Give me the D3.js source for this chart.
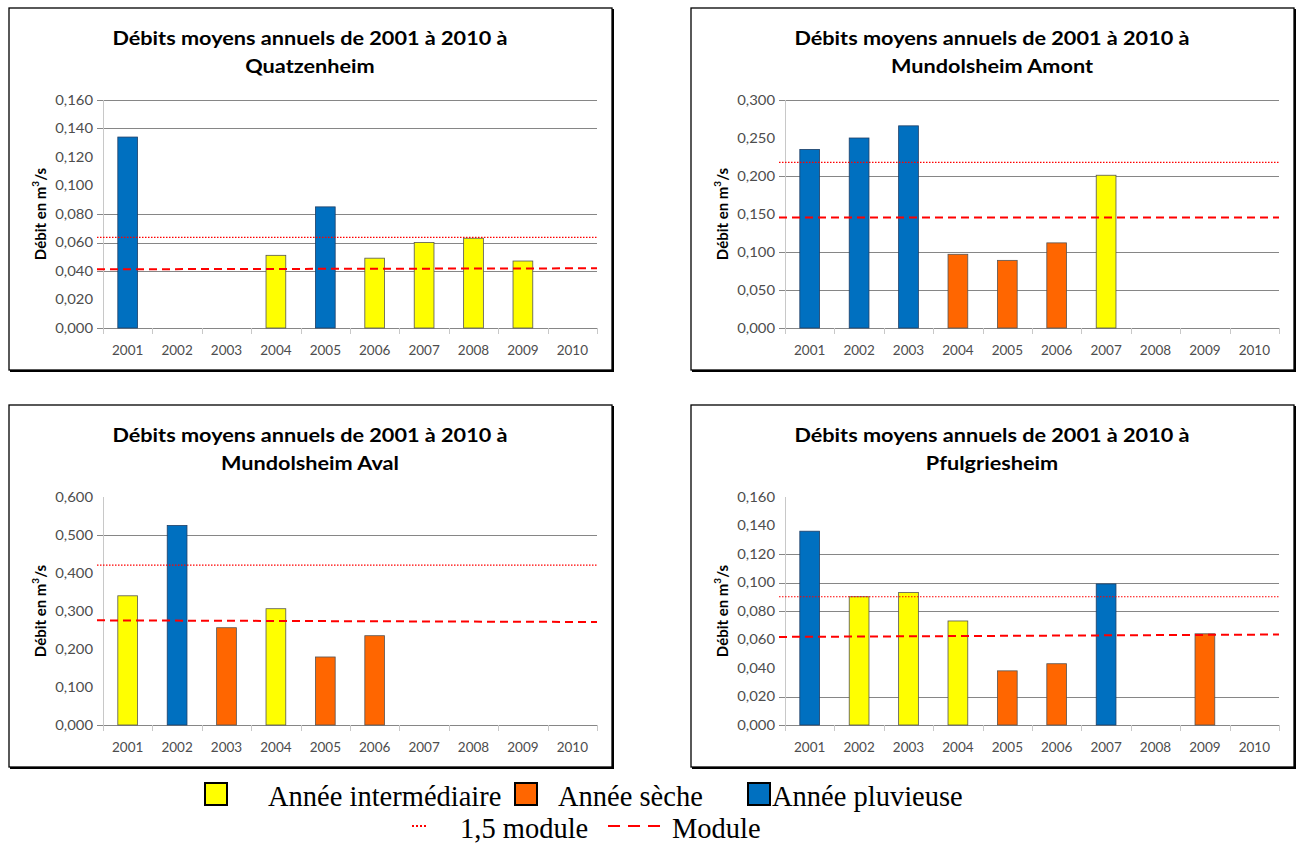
<!DOCTYPE html>
<html>
<head>
<meta charset="utf-8">
<script src="https://cdn.jsdelivr.net/npm/d3@7/dist/d3.min.js"></script>
<style>
  html, body { margin: 0; padding: 0; background: #fff; }
  svg { display: block; }
</style>
</head>
<body>
<svg id="chart" width="1297" height="843"></svg>
<script>
// Years on the category axis
const years = ["2001", "2002", "2003", "2004", "2005", "2006", "2007", "2008", "2009", "2010"];

// Station names (chart titles)
const stations = ["Quatzenheim", "Mundolsheim Amont", "Mundolsheim Aval", "Pfulgriesheim"];

// Annual mean flow (m3/s) per station, null = no measurement
const debitQuatzenheim      = [0.134, null, null, 0.051, 0.085, 0.049, 0.060, 0.063, 0.047, null];
const debitMundolsheimAmont = [0.235, 0.250, 0.266, 0.097, 0.089, 0.112, 0.201, null, null, null];
const debitMundolsheimAval  = [0.340, 0.525, 0.256, 0.306, 0.179, 0.235, null, null, null, null];
const debitPfulgriesheim    = [0.136, 0.090, 0.093, 0.073, 0.038, 0.043, 0.099, null, 0.064, null];

// Year type: I = intermédiaire, S = sèche, P = pluvieuse
const typeQuatzenheim      = ["P", null, null, "I", "P", "I", "I", "I", "I", null];
const typeMundolsheimAmont = ["P", "P", "P", "S", "S", "S", "I", null, null, null];
const typeMundolsheimAval  = ["I", "P", "S", "I", "S", "S", null, null, null, null];
const typePfulgriesheim    = ["P", "I", "I", "I", "S", "S", "P", null, "S", null];

// Module (drawn line, value at the 2001 end and at the 2010 end) and 1,5 module
const moduleStart = [0.0412, 0.1454, 0.2754, 0.0618];
const moduleEnd   = [0.0419, 0.1454, 0.2710, 0.0635];
const module15    = [0.0636, 0.2180, 0.4205, 0.0900];

// Value axis: maximum, step, and the gridlines shown
const yMax  = [0.16, 0.30, 0.60, 0.16];
const yStep = [0.02, 0.05, 0.10, 0.02];
const gridShown = [
  [0.16, 0.14, 0.08, 0.06, 0.04],
  [0.30, 0.20, 0.10, 0.05],
  [0.50],
  [0.12, 0.10, 0.08, 0.02]
];

// Legend entries
const legendTypes = [
  { key: "I", label: "Année intermédiaire" },
  { key: "S", label: "Année sèche" },
  { key: "P", label: "Année pluvieuse" }
];
const legendLines = [
  { key: "m15", label: "1,5 module" },
  { key: "m", label: "Module" }
];

const debits = [debitQuatzenheim, debitMundolsheimAmont, debitMundolsheimAval, debitPfulgriesheim];
const types  = [typeQuatzenheim, typeMundolsheimAmont, typeMundolsheimAval, typePfulgriesheim];

const colors = { I: "#FFFF00", S: "#FF6600", P: "#0070C0" };
const RED = "#FF0000";

const svg = d3.select("#chart");
const frames = [
  { x: 9,   y: 8 },
  { x: 691, y: 8 },
  { x: 9,   y: 405 },
  { x: 691, y: 405 }
];
const FW = 603, FH = 362;
const fmt = v => d3.format(".3f")(v).replace(".", ",");
const UI = "Lato, 'Open Sans', sans-serif";

// widen text glyphs horizontally by a factor
function widen(sel, f) {
  sel.each(function () {
    const w = this.getComputedTextLength();
    this.setAttribute("textLength", w * f);
    this.setAttribute("lengthAdjust", "spacingAndGlyphs");
  });
}

frames.forEach((f, i) => {
  const g = svg.append("g").attr("transform", `translate(${f.x},${f.y})`);

  // frame with a slight drop edge on the right and bottom
  g.append("rect").attr("x", 0).attr("y", 0).attr("width", FW).attr("height", FH)
    .attr("fill", "#fff").attr("stroke", "#000").attr("stroke-width", 1.3);
  g.append("path").attr("d", `M${FW + 1},1 V${FH + 1} H1`)
    .attr("fill", "none").attr("stroke", "#000").attr("stroke-width", 2);

  const left = 94, right = 588, top = 92, bottom = 320;

  const x = d3.scaleBand().domain(years).range([left, right]).paddingInner(0.6).paddingOuter(0.3);
  const y = d3.scaleLinear().domain([0, yMax[i]]).range([bottom, top]);
  const ticks = d3.range(0, yMax[i] + yStep[i] / 2, yStep[i]);

  // title (two lines)
  const titleLines = ["Débits moyens annuels de 2001 à 2010 à", stations[i]];
  const title = g.append("g").selectAll("text").data(titleLines).join("text")
    .attr("x", 301).attr("y", (d, k) => 37 + k * 28)
    .attr("text-anchor", "middle")
    .attr("font-family", UI).attr("font-weight", "bold").attr("font-size", 19).attr("fill", "#000")
    .text(d => d);
  widen(title, 1.14);

  // gridlines
  g.append("g").selectAll("line").data(gridShown[i]).join("line")
    .attr("x1", left - 6).attr("x2", right)
    .attr("y1", d => Math.round(y(d)) + 0.5).attr("y2", d => Math.round(y(d)) + 0.5)
    .attr("stroke", "#868686").attr("stroke-width", 1);

  // value axis
  const ya = g.append("g").attr("transform", `translate(${left},0)`)
    .call(d3.axisLeft(y).tickValues(ticks).tickFormat(fmt).tickSize(0).tickPadding(10));
  ya.select(".domain").remove();
  ya.selectAll("text").attr("font-family", UI).attr("font-size", 13.5).attr("fill", "#4d4d4d");
  widen(ya.selectAll("text"), 1.1);
  g.append("line").attr("x1", left + 0.5).attr("x2", left + 0.5).attr("y1", top).attr("y2", bottom + 6)
    .attr("stroke", "#c8c8c8");

  // category axis
  const xa = g.append("g").attr("transform", `translate(0,${bottom})`)
    .call(d3.axisBottom(x).tickSize(0).tickPadding(17));
  xa.select(".domain").remove();
  xa.selectAll("text").attr("font-family", UI).attr("font-size", 13.5).attr("fill", "#4d4d4d");
  g.append("line").attr("x1", left - 6).attr("x2", right).attr("y1", bottom + 0.5).attr("y2", bottom + 0.5)
    .attr("stroke", "#868686");
  const step = x.step();
  g.append("g").selectAll("line").data(d3.range(years.length + 1)).join("line")
    .attr("x1", k => Math.round(left + k * step) + 0.5).attr("x2", k => Math.round(left + k * step) + 0.5)
    .attr("y1", bottom).attr("y2", bottom + 6)
    .attr("stroke", "#c8c8c8");

  // axis title
  g.append("text")
    .attr("transform", `translate(33,${(top + bottom) / 2}) rotate(-90)`)
    .attr("text-anchor", "middle").attr("dominant-baseline", "middle")
    .attr("font-family", UI).attr("font-weight", "bold").attr("font-size", 15)
    .html("Débit en m<tspan baseline-shift='super' font-size='10'>3</tspan>/s");

  // bars
  const rows = years.map((yr, k) => ({ yr, v: debits[i][k], t: types[i][k] })).filter(d => d.v != null);
  g.append("g").selectAll("rect").data(rows).join("rect")
    .attr("x", d => x(d.yr)).attr("width", x.bandwidth())
    .attr("y", d => y(d.v)).attr("height", d => y(0) - y(d.v))
    .attr("fill", d => colors[d.t])
    .attr("stroke", d => d.t === "P" ? "#1f3f66" : "#555")
    .attr("stroke-width", 0.8);

  // reference lines
  g.append("line")
    .attr("x1", left - 6).attr("x2", right)
    .attr("y1", y(module15[i])).attr("y2", y(module15[i]))
    .attr("stroke", RED).attr("stroke-width", 1.2).attr("stroke-dasharray", "1.5,1.5");
  g.append("line")
    .attr("x1", left - 6).attr("x2", right)
    .attr("y1", y(moduleStart[i])).attr("y2", y(moduleEnd[i]))
    .attr("stroke", RED).attr("stroke-width", 2).attr("stroke-dasharray", "8,5");
});

// legend
const SERIF = "'Liberation Serif', 'Times New Roman', serif";
const lg = svg.append("g").attr("font-family", SERIF).attr("font-size", 28.5).attr("fill", "#000");
const swatchX = [205, 515, 748];
const textX = [268, 558, 772];
legendTypes.forEach((d, k) => {
  lg.append("rect").attr("x", swatchX[k]).attr("y", 783).attr("width", 22).attr("height", 22)
    .attr("fill", colors[d.key]).attr("stroke", "#000").attr("stroke-width", 2);
  lg.append("text").attr("x", textX[k]).attr("y", 806).text(d.label);
});
const lineX = [[412, 426], [608, 660]];
const lineTextX = [460, 672];
legendLines.forEach((d, k) => {
  lg.append("line").attr("x1", lineX[k][0]).attr("x2", lineX[k][1]).attr("y1", 826).attr("y2", 826)
    .attr("stroke", RED).attr("stroke-width", 2)
    .attr("stroke-dasharray", d.key === "m15" ? "2,2" : "12,8");
  lg.append("text").attr("x", lineTextX[k]).attr("y", 838).text(d.label);
});
</script>
</body>
</html>
